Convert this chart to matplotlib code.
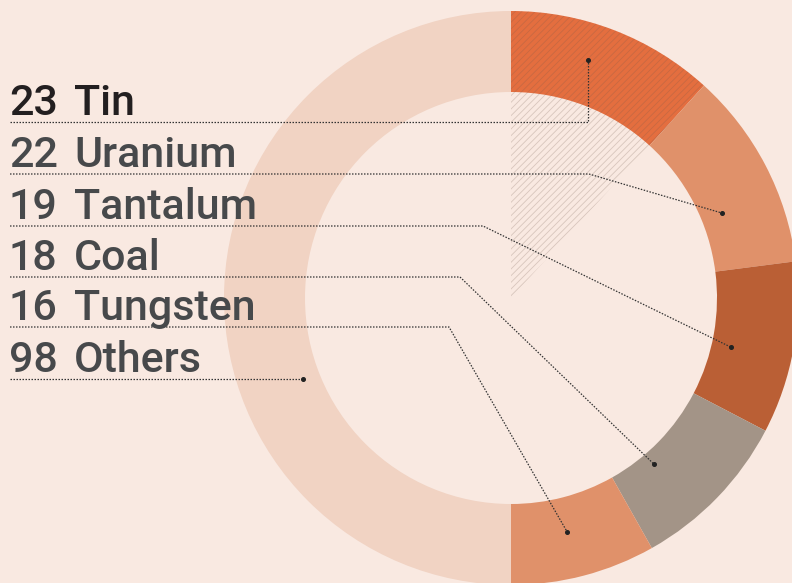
import matplotlib.pyplot as plt
from matplotlib.patches import Wedge
import numpy as np

names = ["Tin", "Uranium", "Tantalum", "Coal", "Tungsten", "Others"]
counts = [23, 22, 19, 18, 16, 98]
colors = ["#E46E3F", "#E0916A", "#BA5F35", "#A39487", "#E0916A", "#F1D3C3"]
# where each leader line ends inside the ring (angle in degrees, radius)
dot_angle = [72.1, 21.9, -12.6, -49.3, -76.5, 201.3]
dot_radius = [0.872, 0.793, 0.785, 0.763, 0.838, 0.778]
# x (in pixels) where the horizontal part of a leader bends towards its dot
elbow_px = [None, 589, 483, 460, 449, None]

BG = "#F9E9E1"
W, H = 792, 583
CX, CY, R_OUT, R_IN = 511, 298, 287, 206


def to_data(px, py):
    return (px - CX) / R_OUT, (CY - py) / R_OUT


fig = plt.figure(figsize=(W / 100, H / 100), dpi=100, facecolor=BG)
ax = fig.add_axes([0, 0, 1, 1])
ax.set_facecolor(BG)
x0, y0 = to_data(0, H)
x1, y1 = to_data(W, 0)
ax.set_xlim(x0, x1)
ax.set_ylim(y0, y1)
ax.set_aspect("equal")
ax.axis("off")

# donut, clockwise from 12 o'clock
total = sum(counts)
start = 90.0
angles = []
for n, c, col in zip(names, counts, colors):
    span = c / total * 360
    angles.append((start - span, start))
    ax.add_patch(Wedge((0, 0), 1.0, start - span, start, width=1 - R_IN / R_OUT,
                       facecolor=col, edgecolor="none", lw=0))
    start -= span

# hatched highlight of the Tin slice, all the way down to the centre
plt.rcParams["hatch.linewidth"] = 0.6
t1, t2 = angles[0]
ax.add_patch(Wedge((0, 0), 1.0, t1, t2, facecolor="none",
                   edgecolor=(0.45, 0.35, 0.3, 0.25), lw=0, hatch="/////"))

# labels and leader lines
row_y = [122, 174, 226, 277, 327, 379]
for i, (n, c) in enumerate(zip(names, counts)):
    col = "#231F20" if i == 0 else "#47494B"
    tx, ty = to_data(9, row_y[i] - 7)
    ax.text(tx, ty, str(c), fontsize=31, color=col, family="Roboto",
            weight="medium", va="baseline", ha="left")
    nx, _ = to_data(74, 0)
    ax.text(nx, ty, n, fontsize=31, color=col, family="Roboto",
            weight="medium", va="baseline", ha="left")

    a = np.radians(dot_angle[i])
    dx, dy = dot_radius[i] * np.cos(a), dot_radius[i] * np.sin(a)
    lx, ly = to_data(10, row_y[i])
    if elbow_px[i] is None:
        ex = dx
    else:
        ex, _ = to_data(elbow_px[i], 0)
    ax.plot([lx, ex, dx], [ly, ly, dy], color="#333333", lw=0.9,
            ls=(0, (1.2, 1.2)), solid_capstyle="butt")
    ax.plot(dx, dy, "o", color="#222222", ms=2.6)

fig.savefig("out.png", dpi=100, facecolor=BG)
